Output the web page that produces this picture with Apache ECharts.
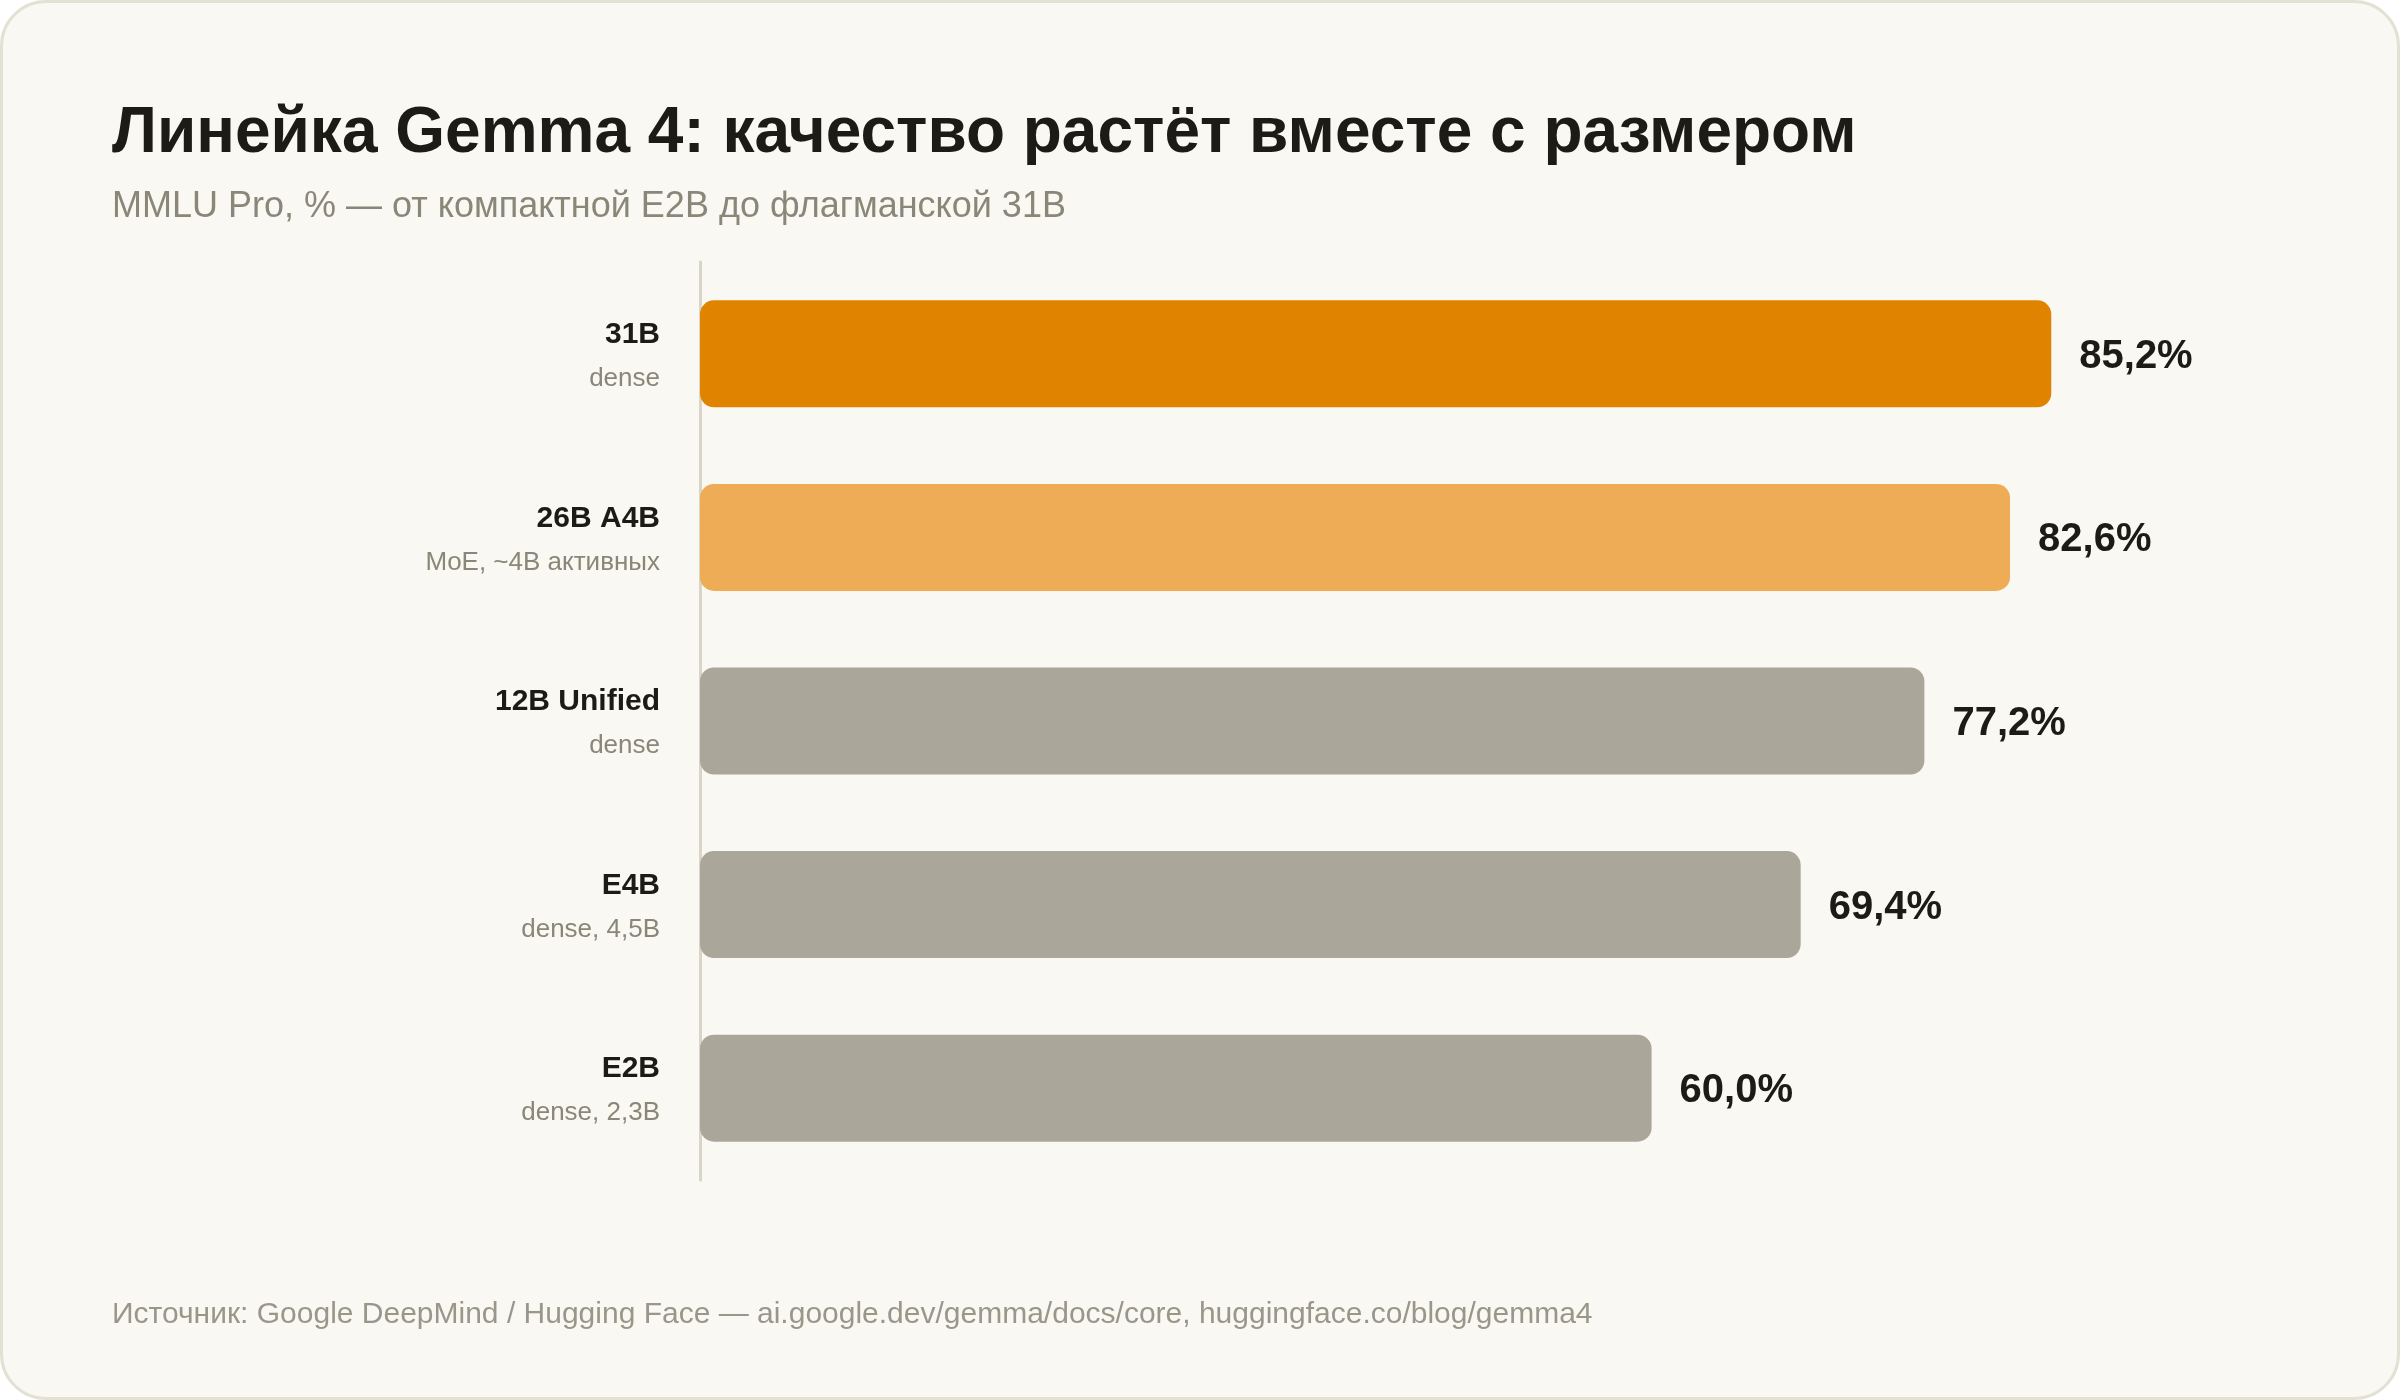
<!DOCTYPE html>
<html>
<head>
<meta charset="utf-8">
<script src="https://cdn.jsdelivr.net/npm/echarts@6/dist/echarts.min.js"></script>
<style>
    html, body { margin: 0; padding: 0; background: #ffffff; }
    #card {
        position: absolute; left: 0; top: 0; width: 2400px; height: 1400px;
        box-sizing: border-box; border: 3px solid #e3e0d4; border-radius: 46px;
        background: #f9f8f3;
    }
    #main { position: absolute; left: 0; top: 0; width: 2400px; height: 1400px; }
</style>
</head>
<body>
<div id="card"></div>
<div id="main"></div>
<script type="text/javascript">

    // данные: модели сверху вниз
    var models = ['31B', '26B A4B', '12B Unified', 'E4B', 'E2B'];
    var notes = ['dense', 'MoE, ~4B активных', 'dense', 'dense, 4,5B', 'dense, 2,3B'];
    var scores = [85.2, 82.6, 77.2, 69.4, 60.0];
    var barColors = ['#e08300', '#efac57', '#aaa699', '#aaa699', '#aaa699'];

    var FONT = '"Liberation Sans", Arial, sans-serif';

    var myChart = echarts.init(document.getElementById('main'));

    var barData = [];
    for (var i = 0; i < scores.length; i++) {
        barData.push({
            value: scores[i],
            itemStyle: { color: barColors[i] }
        });
    }

    var option = {
        backgroundColor: 'transparent',
        textStyle: { fontFamily: FONT },
        title: [
            {
                text: 'Линейка Gemma 4: качество растёт вместе с размером',
                left: 107, top: 97,
                textStyle: { fontFamily: FONT, fontSize: 64, fontWeight: 'bold', color: '#1c1b18' }
            },
            {
                text: 'MMLU Pro, % — от компактной E2B до флагманской 31B',
                left: 107, top: 184,
                textStyle: { fontFamily: FONT, fontSize: 36, fontWeight: 'normal', color: '#8a8779' }
            },
            {
                text: 'Источник: Google DeepMind / Hugging Face — ai.google.dev/gemma/docs/core, huggingface.co/blog/gemma4',
                left: 107, top: 1295,
                textStyle: { fontFamily: FONT, fontSize: 30, fontWeight: 'normal', color: '#9a978a' }
            }
        ],
        grid: { left: 700, top: 262, width: 1586, height: 918, containLabel: false },
        xAxis: {
            type: 'value', min: 0, max: 100,
            show: false
        },
        yAxis: {
            type: 'category',
            data: models,
            inverse: true,
            axisLine: { show: true, lineStyle: { color: '#d9d5c9', width: 3 } },
            axisTick: { show: false },
            axisLabel: {
                margin: 40,
                align: 'right',
                padding: [6, 0, 0, 0],
                formatter: function (val, idx) {
                    return '{n|' + val + '}\n{s|' + notes[idx] + '}';
                },
                rich: {
                    n: { fontFamily: FONT, fontSize: 30, fontWeight: 'bold', color: '#1c1b18', lineHeight: 44, align: 'right' },
                    s: { fontFamily: FONT, fontSize: 26, color: '#8a8779', lineHeight: 44, align: 'right' }
                }
            }
        },
        series: [{
            type: 'bar',
            data: barData,
            barWidth: 107,
            itemStyle: { borderRadius: 14 },
            label: {
                show: true,
                position: 'right',
                distance: 28,
                offset: [0, 3],
                fontFamily: FONT,
                fontSize: 40,
                fontWeight: 'bold',
                color: '#1c1b18',
                formatter: function (p) {
                    return p.value.toFixed(1).replace('.', ',') + '%';
                }
            }
        }]
    };

    myChart.setOption(option);
</script>
</body>
</html>
